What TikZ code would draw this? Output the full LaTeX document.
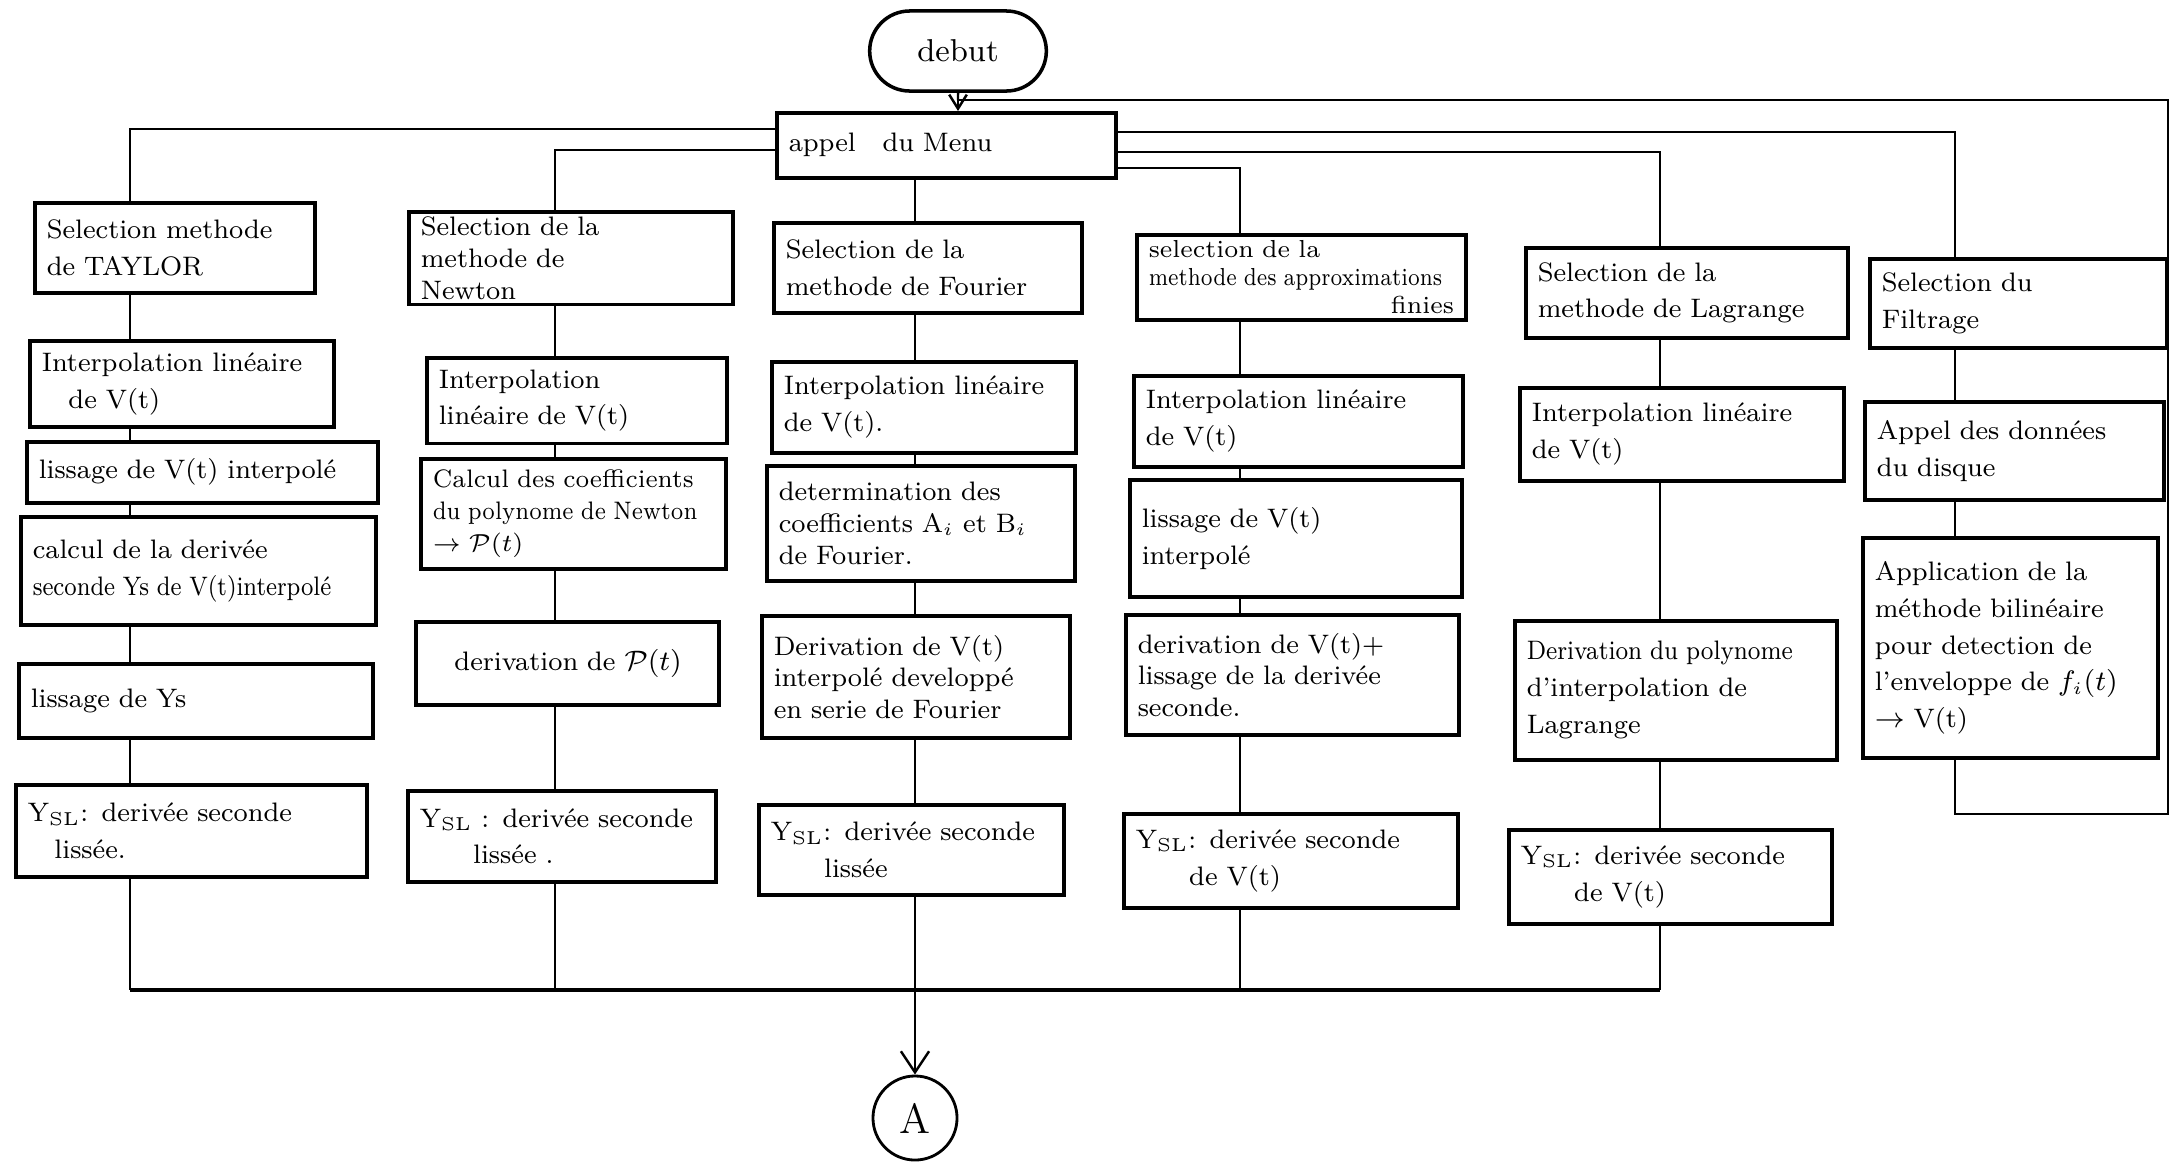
\documentclass[tikz,border=0pt]{standalone}
\usetikzlibrary{shapes.misc,arrows.meta}

% squeeze a line sideways when it is too long for its box
\newcommand{\hsqueeze}[2]{\scalebox{#1}[1]{#2}}

\tikzset{
  box/.style={draw, line width=1pt, anchor=north west, align=left, inner xsep=0.12cm,
    font=\fontsize{7.6}{10.5}\selectfont},
  tight/.style={inner ysep=1.5pt, font=\fontsize{#1}{9}\selectfont},
  link/.style={line width=0.7pt},
  debutbox/.style={draw, line width=1pt, rounded rectangle, minimum width=2cm, minimum height=0.8cm,
    font=\fontsize{9}{11}\selectfont},
  connect/.style={draw, circle, line width=0.8pt, minimum size=0.84cm, inner sep=0pt,
    font=\fontsize{12}{14}\selectfont},
}

\begin{document}
\begin{tikzpicture}[x=0.01cm, y=-0.01cm]
    \useasboundingbox (0,0) rectangle (2170,1166);

    % spines of the six columns
    \coordinate (ct) at (130,0);
    \coordinate (cn) at (555,0);
    \coordinate (cf) at (915,0);
    \coordinate (ca) at (1240,0);
    \coordinate (cl) at (1660,0);
    \coordinate (cr) at (1955,0);
    \coordinate (bus) at (0,990);
    \coordinate (loop) at (958,100);
    \coordinate (back) at (2168,814);

    % start and menu
    \node[debutbox] (debut) at (958,51) {debut};
    \node[box, text width=3.15cm, minimum height=0.65cm] (menu) at (775,111) {appel\quad du Menu};

    % TAYLOR
    \node[box, text width=2.56cm, minimum height=0.90cm] (T1) at (33,201) {Selection methode\\ de TAYLOR};
    \node[box, text width=2.80cm, minimum height=0.86cm] (T2) at (28,339) {Interpolation linéaire\\ \quad de V(t)};
    \node[box, text width=3.27cm, minimum height=0.61cm] (T3) at (25,440) {lissage de V(t) interpolé};
    \node[box, text width=3.31cm, minimum height=1.08cm] (T4) at (19,515) {calcul de la derivée\\ \hsqueeze{0.87}{seconde Ys de V(t)interpolé}};
    \node[box, text width=3.30cm, minimum height=0.74cm] (T5) at (17,662) {lissage de Ys};
    \node[box, text width=3.27cm, minimum height=0.92cm] (T6) at (14,783) {Y\textsubscript{SL}: derivée seconde\\ \quad lissée.};

    % Newton
    \node[box, tight=7.6, text width=3.00cm, minimum height=0.92cm] (N1) at (407,210) {Selection de la\\ methode de\\ Newton};
    \node[box, text width=2.76cm, minimum height=0.83cm] (N2) at (425,356) {Interpolation\\ linéaire de V(t)};
    \node[box, tight=7.2, text width=2.81cm, minimum height=1.10cm] (N3) at (419,457) {\hsqueeze{0.95}{Calcul des coefficients}\\ \hsqueeze{0.87}{du polynome de Newton}\\ $\rightarrow \mathcal{P}(t)$};
    \node[box, text width=2.79cm, minimum height=0.83cm] (N4) at (414,620) {\quad derivation de $\mathcal{P}(t)$};
    \node[box, text width=2.84cm, minimum height=0.91cm] (N5) at (406,789) {Y\textsubscript{SL} : derivée seconde\\ \qquad lissée .};

    % Fourier
    \node[box, text width=2.84cm, minimum height=0.90cm] (F1) at (772,221) {Selection de la\\ methode de Fourier};
    \node[box, text width=2.80cm, minimum height=0.91cm] (F2) at (770,360) {Interpolation linéaire\\ de V(t).};
    \node[box, tight=7.6, text width=2.84cm, minimum height=1.15cm] (F3) at (765,464) {determination des\\ coefficients A$_i$ et B$_i$\\ de Fourier.};
    \node[box, tight=7.6, text width=2.84cm, minimum height=1.22cm] (F4) at (760,614) {Derivation de V(t)\\ interpolé developpé\\ en serie de Fourier};
    \node[box, text width=2.81cm, minimum height=0.90cm] (F5) at (757,803) {Y\textsubscript{SL}: derivée seconde\\ \qquad lissée};

    % approximations finies
    \node[box, inner ysep=1pt, font=\fontsize{7}{8}\selectfont, text width=3.05cm, minimum height=0.85cm] (A1) at (1135,233) {selection de la\\ \hsqueeze{0.84}{methode des approximations}\\ \hfill finies\qquad};
    \node[box, text width=3.05cm, minimum height=0.91cm] (A2) at (1132,374) {Interpolation linéaire\\ de V(t)};
    \node[box, text width=3.08cm, minimum height=1.17cm] (A3) at (1128,478) {lissage de V(t)\\ interpolé};
    \node[box, tight=7.6, text width=3.09cm, minimum height=1.20cm] (A4) at (1124,613) {derivation de V(t)+\\ lissage de la derivée\\ seconde.};
    \node[box, text width=3.10cm, minimum height=0.94cm] (A5) at (1122,812) {Y\textsubscript{SL}: derivée seconde\\ \qquad de V(t)};

    % Lagrange
    \node[box, text width=2.98cm, minimum height=0.90cm] (L1) at (1524,246) {Selection de la\\ methode de Lagrange};
    \node[box, text width=3.00cm, minimum height=0.93cm] (L2) at (1518,386) {Interpolation linéaire\\ de V(t)};
    \node[box, text width=2.98cm, minimum height=1.39cm] (L3) at (1513,619) {\hsqueeze{0.89}{Derivation du polynome}\\ d'interpolation de\\ Lagrange};
    \node[box, text width=2.99cm, minimum height=0.94cm] (L4) at (1507,828) {Y\textsubscript{SL}: derivée seconde\\ \qquad de V(t)};

    % Filtrage
    \node[box, text width=2.73cm, minimum height=0.89cm] (R1) at (1868,257) {Selection du\\ Filtrage};
    \node[box, text width=2.75cm, minimum height=0.98cm] (R2) at (1863,400) {Appel des données\\ du disque};
    \node[box, text width=2.71cm, minimum height=2.20cm] (R3) at (1861,536) {Application de la\\ méthode bilinéaire\\ pour detection de\\ l'enveloppe de $f_i(t)$\\ $\rightarrow$ V(t)};

    % connector A
    \node[connect] (A) at (915,1118) {A};

    % menu to the columns
    \draw[link] ([yshift=0.165cm]menu.west) -| (T1.north -| ct);
    \draw[link] ([yshift=-0.045cm]menu.west) -| (N1.north -| cn);
    \draw[link] (menu.south -| cf) -- (F1.north -| cf);
    \draw[link] ([yshift=-0.225cm]menu.east) -| (A1.north -| ca);
    \draw[link] ([yshift=-0.065cm]menu.east) -| (L1.north -| cl);
    \draw[link] ([yshift=0.135cm]menu.east) -| (R1.north -| cr);

    % down each column
    \foreach \a/\b/\c in {T1/T2/ct,T2/T3/ct,T3/T4/ct,T4/T5/ct,T5/T6/ct,
                          N1/N2/cn,N2/N3/cn,N3/N4/cn,N4/N5/cn,
                          F1/F2/cf,F2/F3/cf,F3/F4/cf,F4/F5/cf,
                          A1/A2/ca,A2/A3/ca,A3/A4/ca,A4/A5/ca,
                          L1/L2/cl,L2/L3/cl,L3/L4/cl,
                          R1/R2/cr,R2/R3/cr}
    \draw[link] (\a.south -| \c) -- (\b.north -| \c);

    % gather the results
    \foreach \n/\c in {T6/ct,N5/cn,F5/cf,A5/ca,L4/cl}
    \draw[link] (\n.south -| \c) -- (\c |- bus);
    \draw[link, line width=1.1pt] (ct |- bus) -- (cl |- bus);
    \draw[link, -{Straight Barb[length=6pt,width=8pt]}] (cf |- bus) -- (A);

    % start, and the way back from filtering
    \draw[link] (debut) -- (loop);
    \draw[link, -{Straight Barb[length=4pt,width=5pt]}] (R3.south -| cr) |- (back) |- (loop) -- (menu.north -| loop);

\end{tikzpicture}
\end{document}
